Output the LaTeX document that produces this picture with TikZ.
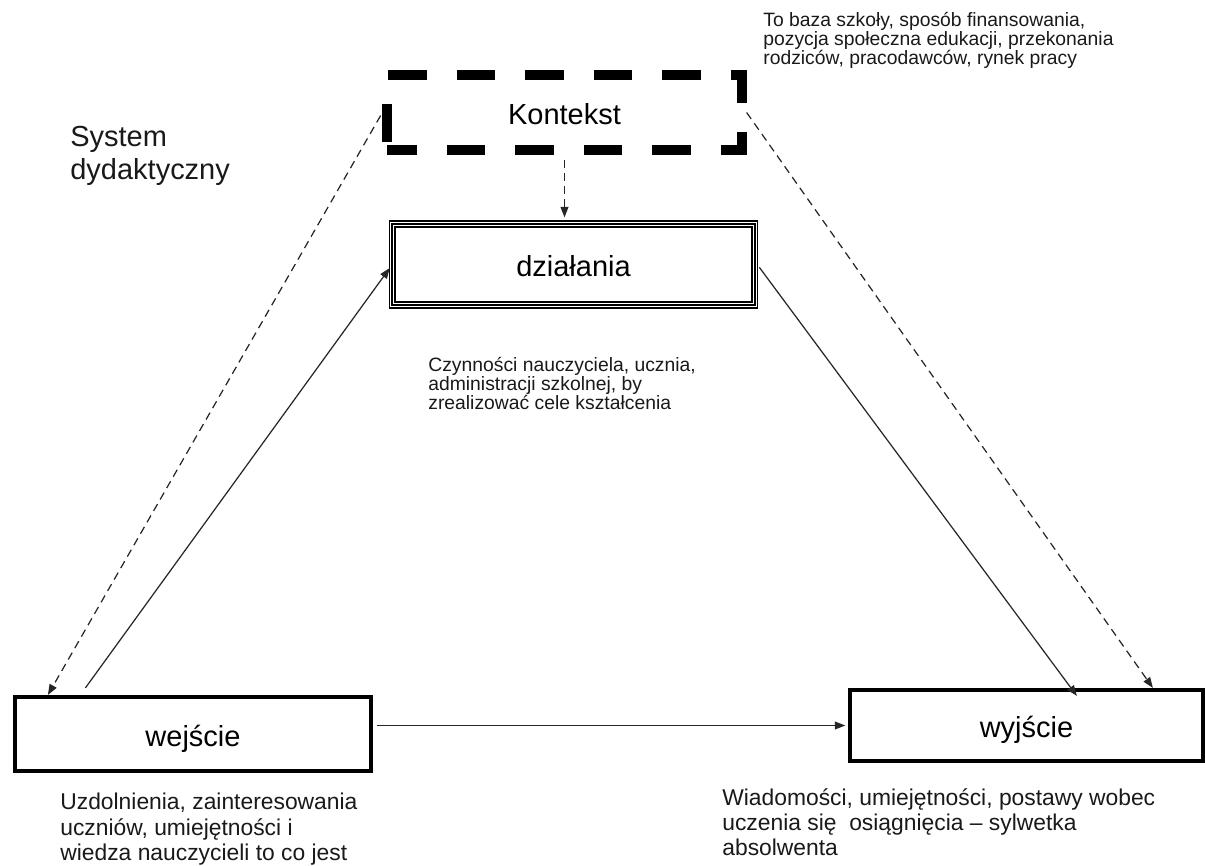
\documentclass[tikz,border=0pt]{standalone}
\usepackage{fontspec}
\setmainfont{Liberation Sans}
\usetikzlibrary{arrows.meta}

\begin{document}
\begin{tikzpicture}[
    x=0.02cm, y=-0.02cm,
    box/.style={draw, line width=2.4pt, inner sep=0pt,
                font=\fontsize{16.5}{19}\selectfont,
                text height=14.2pt, text depth=0pt},
    ctxbox/.style={box, line width=5.3pt,
                   dash pattern=on 22pt off 17pt, dash phase=5pt},
    actbox/.style={box, draw=white, line width=2.6pt,
                   preaction={draw=black, line width=4pt},
                   postaction={draw=black, line width=0.7pt}},
    link/.style={-{Triangle[length=6pt, width=4.5pt]},
                 line width=0.7pt, black!85},
    ctxlink/.style={link, dash pattern=on 4.5pt off 3pt},
    note/.style={font=\fontsize{11}{10.9}\selectfont, align=left,
                 anchor=north west, inner sep=0pt, text=black!90},
    bignote/.style={note, font=\fontsize{13}{14.3}\selectfont},
  ]

  \useasboundingbox (0,0) rectangle (1205,866);

  % =========================================================
  %  BOXES
  % =========================================================
  \node[ctxbox, minimum width=7.1cm, minimum height=1.5cm]
    (kontekst) at (564.5,112.5) {Kontekst};
  \node[actbox, minimum width=7.26cm, minimum height=1.62cm]
    (dzialania) at (573.5,264.5) {działania};
  \node[box, minimum width=7.12cm, minimum height=1.48cm]
    (wejscie) at (193,734) {wejście};
  \node[box, minimum width=7.06cm, minimum height=1.42cm]
    (wyjscie) at (1026.5,725.5) {wyjście};

  % =========================================================
  %  CONNECTORS
  % =========================================================
  % context influences everything (dashed)
  \draw[ctxlink, shorten <=3pt, shorten >=2.5pt]
    (kontekst.south) -- (kontekst.south |- dzialania.north);
  \draw[ctxlink, shorten <=2pt]
    (kontekst.west) -- ([xshift=0.7cm]wejscie.north west);
  \draw[ctxlink]
    (kontekst.east) -- ([xshift=6.1cm]wyjscie.north west);

  % input -> actions -> output
  \draw[link] ([xshift=1.45cm, yshift=0.14cm]wejscie.north west)
    -- ([yshift=-0.07cm]dzialania.west);
  \draw[link, shorten <=2pt]
    (dzialania.east) -- ([xshift=4.58cm, yshift=-0.16cm]wyjscie.north west);
  \draw[link, shorten <=2pt, shorten >=1.5pt]
    (wejscie.east |- wyjscie.west) -- (wyjscie.west);

  % =========================================================
  %  TEXTS
  % =========================================================
  \node[note, font=\fontsize{16.5}{19}\selectfont] (system) at (70,126)
    {System\\dydaktyczny};
  \node[note] (ctxnote) at (763,12)
    {To baza szkoły, sposób finansowania,\\
     pozycja społeczna edukacji, przekonania\\
     rodziców, pracodawców, rynek pracy};
  \node[note] (actnote) at (428,357)
    {Czynności nauczyciela, ucznia,\\
     administracji szkolnej, by\\
     zrealizować cele kształcenia};
  \node[bignote] (innote) at (60,793)
    {Uzdolnienia, zainteresowania\\
     uczniów, umiejętności i\\
     wiedza nauczycieli to co jest};
  \node[bignote] (outnote) at (722,788)
    {Wiadomości, umiejętności, postawy wobec\\
     uczenia się \ osiągnięcia -- sylwetka\\
     absolwenta};

\end{tikzpicture}
\end{document}
